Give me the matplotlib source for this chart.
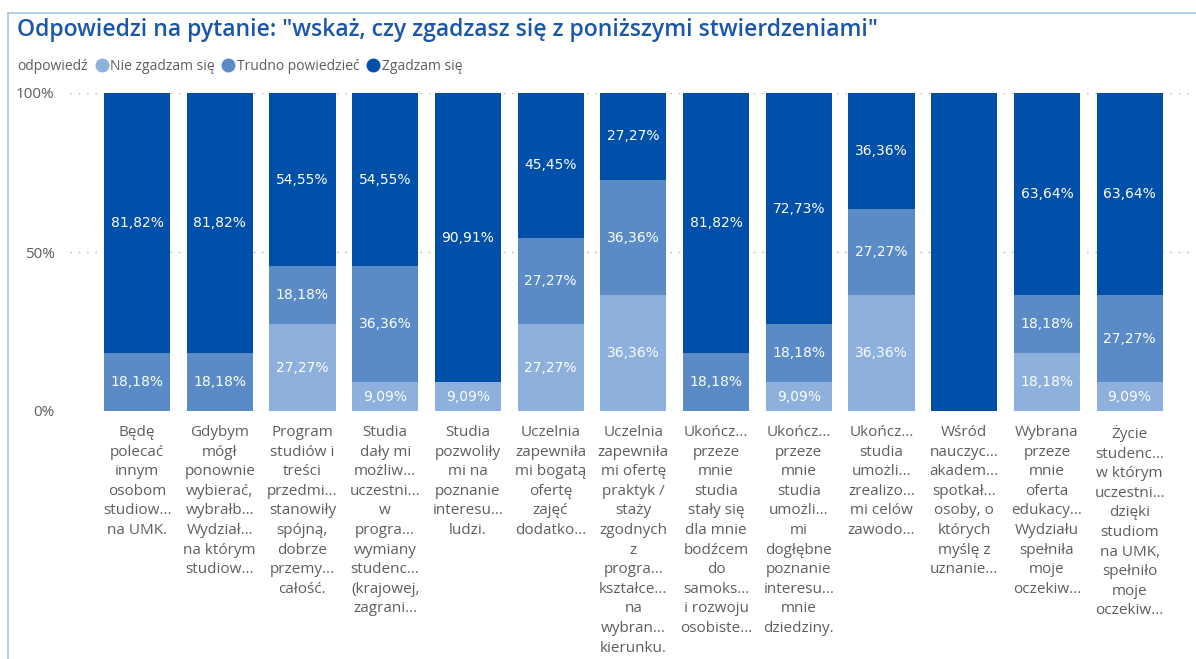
import matplotlib.pyplot as plt
from matplotlib.lines import Line2D
import numpy as np

W, H = 1196, 659

labels = [
    "Będę\npolecać\ninnym\nosobom\nstudiow...\nna UMK.",
    "Gdybym\nmógł\nponownie\nwybierać,\nwybrałb...\nWydział...\nna którym\nstudiow...",
    "Program\nstudiów i\ntreści\nprzedmi...\nstanowiły\nspójną,\ndobrze\nprzemy...\ncałość.",
    "Studia\ndały mi\nmożliw...\nuczestni...\nw\nprogra...\nwymiany\nstudenc...\n(krajowej,\nzagrani...",
    "Studia\npozwoliły\nmi na\npoznanie\ninteresu...\nludzi.",
    "Uczelnia\nzapewniła\nmi bogatą\nofertę\nzajęć\ndodatko...",
    "Uczelnia\nzapewniła\nmi ofertę\npraktyk /\nstaży\nzgodnych\nz\nprogra...\nkształce...\nna\nwybran...\nkierunku.",
    "Ukończ...\nprzeze\nmnie\nstudia\nstały się\ndla mnie\nbodźcem\ndo\nsamoks...\ni rozwoju\nosobiste...",
    "Ukończ...\nprzeze\nmnie\nstudia\numożli...\nmi\ndogłębne\npoznanie\ninteresu...\nmnie\ndziedziny.",
    "Ukończ...\nstudia\numożli...\nzrealizo...\nmi celów\nzawodo...",
    "Wśród\nnauczyc...\nakadem...\nspotkał...\nosoby, o\nktórych\nmyślę z\nuznanie...",
    "Wybrana\nprzeze\nmnie\noferta\nedukacy...\nWydziału\nspełniła\nmoje\noczekiw...",
    "Życie\nstudenc...\nw którym\nuczestni...\ndzięki\nstudiom\nna UMK,\nspełniło\nmoje\noczekiw...",
]

series = ["Nie zgadzam się", "Trudno powiedzieć", "Zgadzam się"]
nie = [0, 0, 27.27, 9.09, 9.09, 27.27, 36.36, 0, 9.09, 36.36, 0, 18.18, 9.09]
trudno = [18.18, 18.18, 18.18, 36.36, 0, 27.27, 36.36, 18.18, 18.18, 27.27, 0, 18.18, 27.27]
zgadzam = [81.82, 81.82, 54.55, 54.55, 90.91, 45.45, 27.27, 81.82, 72.73, 36.36, 100, 63.64, 63.64]

colors = ["#8DB0DD", "#5A8BC6", "#004FA8"]
gray = "#605E5C"

plt.rcParams['font.family'] = ['Open Sans', 'DejaVu Sans']

fig = plt.figure(figsize=(W / 100, H / 100), dpi=100)
ax = fig.add_axes([70 / W, 1 - 411 / H, 1120 / W, 318 / H])

x = np.arange(len(labels))
bottom = np.zeros(len(labels))
for vals, col, name in zip([nie, trudno, zgadzam], colors, series):
    vals = np.array(vals)
    ax.bar(x, vals, 0.8, bottom=bottom, color=col, label=name, zorder=2)
    for xi, b, v in zip(x, bottom, vals):
        if 0 < v < 100:
            ax.text(xi, b + v / 2, f"{v:.2f}%".replace(".", ","), ha="center", va="center",
                    color="white", fontsize=10, family="DejaVu Sans", zorder=3)
    bottom += vals

ax.set_xlim(-0.81, 12.73)
ax.set_ylim(0, 100)
ax.set_yticks([0, 50, 100], ["0%", "50%", "100%"], color=gray, fontsize=11)
ax.set_xticks(x, labels, color=gray, fontsize=11, linespacing=1.42, va="top")
ax.tick_params(length=0)
ax.tick_params(axis="y", pad=11)
ax.tick_params(axis="x", pad=10)
ax.grid(axis="y", linestyle=(0, (1, 5)), color="#B0B0B0", linewidth=1, zorder=0)
for s in ax.spines.values():
    s.set_visible(False)

fig.text(17 / W, 1 - 30 / H, 'Odpowiedzi na pytanie: "wskaż, czy zgadzasz się z poniższymi stwierdzeniami"',
         color="#1A56AA", fontsize=16.6, weight="semibold", va="center", ha="left")
fig.text(17 / W, 1 - 66 / H, "odpowiedź", color=gray, fontsize=10, va="center", ha="left")

handles = [Line2D([], [], marker="o", linestyle="", markersize=9, color=c) for c in colors]
fig.legend(handles, series, loc="center left", bbox_to_anchor=(96 / W, 1 - 66 / H), ncol=3,
           frameon=False, handlelength=0.8, handletextpad=0.2, columnspacing=0.6,
           fontsize=10, labelcolor=gray, borderpad=0, borderaxespad=0)

# light blue frame (top and left edges)
fig.add_artist(Line2D([8 / W, 1], [1 - 13 / H, 1 - 13 / H], color="#A9C6EA", linewidth=1.2))
fig.add_artist(Line2D([8 / W, 8 / W], [1 - 13 / H, 0], color="#A9C6EA", linewidth=1.2))

fig.savefig("out.png", dpi=100)
